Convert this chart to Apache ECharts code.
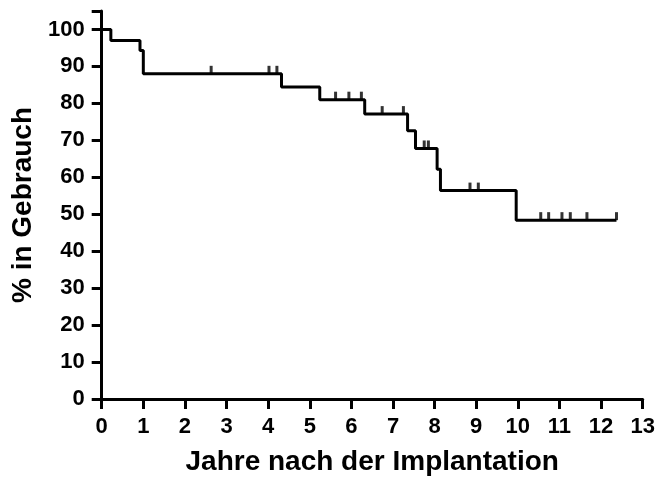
<!DOCTYPE html>
<html>
<head>
<meta charset="utf-8">
<script src="https://cdn.jsdelivr.net/npm/echarts@6/dist/echarts.min.js"></script>
<style>html,body{margin:0;padding:0;background:#fff}#c{width:659px;height:477px}</style>
</head>
<body>
<div id="c"></div>
<script>
// Kaplan-Meier step curve: event times (years) and survival (%)
const eventTimes = [0, 0.22, 0.92, 1.0, 4.32, 5.24, 6.32, 7.35, 7.54, 8.06, 8.14, 9.96, 12.37];
const survival   = [100, 97.0, 94.3, 88.0, 84.4, 81.0, 77.1, 72.6, 67.8, 62.2, 56.4, 48.4, 48.4];
// Censored observations
const censorTimes  = [2.63, 4.02, 4.21, 5.62, 5.94, 6.24, 6.74, 7.25, 7.75, 7.85, 8.85, 9.05, 10.55, 10.74, 11.06, 11.26, 11.66, 12.37];
const censorValues = [88.0, 88.0, 88.0, 81.0, 81.0, 81.0, 77.1, 77.1, 67.8, 67.8, 56.4, 56.4, 48.4, 48.4, 48.4, 48.4, 48.4, 48.4];
const xTicks = [0,1,2,3,4,5,6,7,8,9,10,11,12,13];
const yTicks = [0,10,20,30,40,50,60,70,80,90,100];

const chart = echarts.init(document.getElementById('c'), null, {renderer:'canvas'});
const font = '"Liberation Sans", Arial, sans-serif';
const labelStyle = {color:'#000', fontFamily:font, fontWeight:'bold', fontSize:22, margin:17};
const axisCommon = {
  axisLine: {show:true, onZero:false, lineStyle:{color:'#000', width:3}},
  axisTick: {show:true, length:10, lineStyle:{color:'#000', width:3}},
  splitLine: {show:false},
  nameTextStyle: {color:'#000', fontFamily:font, fontWeight:'bold', fontSize:28}
};
chart.setOption({
  animation:false,
  backgroundColor:'#fff',
  grid:{left:101.7, right:16.3, top:11, bottom:78, containLabel:false, outerBoundsMode:'none'},
  xAxis: Object.assign({}, axisCommon, {
    type:'value', min:0, max:13, interval:1,
    name:'Jahre nach der Implantation', nameLocation:'middle', nameGap:49,
    axisLabel: Object.assign({}, labelStyle, {formatter: v => xTicks.includes(v) ? String(v) : ''})
  }),
  yAxis: Object.assign({}, axisCommon, {
    type:'value', min:0, max:105, interval:10,
    name:'% in Gebrauch', nameLocation:'middle', nameGap:63,
    axisLabel: Object.assign({}, labelStyle, {formatter: v => yTicks.includes(v) ? String(v) : ''})
  }),
  series:[
    {
      type:'line', step:'end', symbol:'none',
      lineStyle:{color:'#000', width:3},
      data: eventTimes.map((t,i)=>[t, survival[i]])
    },
    {
      type:'scatter', symbol:'rect', symbolSize:[3,8], symbolOffset:[0,-4],
      itemStyle:{color:'#000'},
      data: censorTimes.map((t,i)=>[t, censorValues[i]])
    }
  ]
});
</script>
</body>
</html>
